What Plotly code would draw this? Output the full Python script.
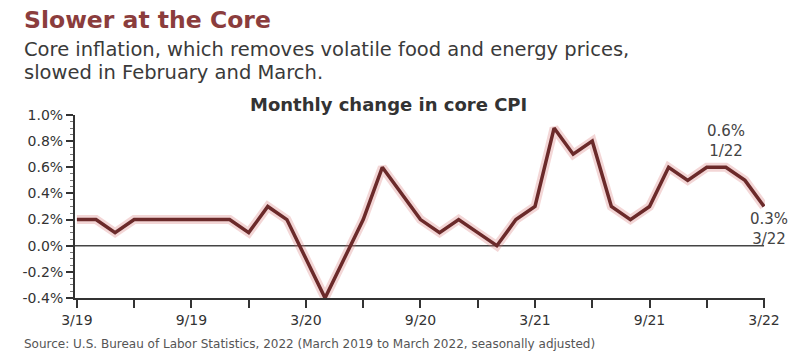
import plotly.graph_objects as go

months = ["3/19","4/19","5/19","6/19","7/19","8/19","9/19","10/19","11/19","12/19",
          "1/20","2/20","3/20","4/20","5/20","6/20","7/20","8/20","9/20","10/20","11/20","12/20",
          "1/21","2/21","3/21","4/21","5/21","6/21","7/21","8/21","9/21","10/21","11/21","12/21",
          "1/22","2/22","3/22"]
core_cpi = [0.2,0.2,0.1,0.2,0.2,0.2,0.2,0.2,0.2,0.1,
            0.3,0.2,-0.1,-0.4,-0.1,0.2,0.6,0.4,0.2,0.1,0.2,0.1,
            0.0,0.2,0.3,0.9,0.7,0.8,0.3,0.2,0.3,0.6,0.5,0.6,
            0.6,0.5,0.3]
tick_labels = ["3/19","9/19","3/20","9/20","3/21","9/21","3/22"]
y_ticks = [-0.4,-0.2,0.0,0.2,0.4,0.6,0.8,1.0]

x = list(range(len(months)))
FONT = "DejaVu Sans"

W, H = 792, 356
ml, mr, mt, mb = 75, 24, 115, 58
pw, ph = W - ml - mr, H - mt - mb

def px_to_paper(px, py):
    return (px - ml) / pw, (H - mb - py) / ph

fig = go.Figure()
fig.add_trace(go.Scatter(x=x, y=core_cpi, mode="lines",
                         line=dict(color="rgba(215,120,120,0.3)", width=9),
                         hoverinfo="skip", showlegend=False))
fig.add_trace(go.Scatter(x=x, y=core_cpi, mode="lines",
                         line=dict(color="#6b2a2a", width=3.5),
                         showlegend=False))

fig.add_shape(type="line", xref="x", yref="y", x0=-0.1, x1=36, y0=0, y1=0,
              line=dict(color="#444", width=1.5), layer="below")

fig.update_xaxes(range=[-0.1, 36.05], tickmode="array",
                 tickvals=[x[months.index(t)] for t in tick_labels], ticktext=tick_labels,
                 ticks="outside", ticklen=8, tickwidth=2, tickcolor="#333",
                 showline=True, linecolor="#333", linewidth=2, showgrid=False, zeroline=False,
                 minor=dict(tickmode="array", tickvals=list(range(3, 36, 6)),
                            ticks="outside", ticklen=8, tickwidth=2, tickcolor="#333"),
                 tickfont=dict(family=FONT, size=14, color="#333"))
fig.update_yaxes(range=[-0.4, 1.0], tickmode="array", tickvals=y_ticks,
                 ticktext=[f"{v:.1f}%" for v in y_ticks],
                 ticks="outside", ticklen=7, tickwidth=2, tickcolor="#333",
                 showline=True, linecolor="#333", linewidth=2, showgrid=False, zeroline=False,
                 minor=dict(dtick=0.05, ticks="outside", ticklen=3, tickwidth=1, tickcolor="#777"),
                 tickfont=dict(family=FONT, size=14, color="#333"))

texts = [
    (20, "<b>Slower at the Core</b>", dict(size=23.5, color="#8b3d3d")),
    (49, "Core inflation, which removes volatile food and energy prices,", dict(size=19.5, color="#3a3a3a")),
    (72, "slowed in February and March.", dict(size=19.5, color="#3a3a3a")),
    (344, "Source: U.S. Bureau of Labor Statistics, 2022 (March 2019 to March 2022, seasonally adjusted)", dict(size=12, color="#555")),
]
for py, txt, f in texts:
    xp, yp = px_to_paper(22, py)
    fig.add_annotation(x=xp, y=yp, xref="paper", yref="paper", text=txt,
                       showarrow=False, xanchor="left", yanchor="middle",
                       font=dict(family=FONT, **f))

xp, yp = px_to_paper(390, 105)
fig.add_annotation(x=xp, y=yp, xref="paper", yref="paper", text="<b>Monthly change in core CPI</b>",
                   showarrow=False, xanchor="center", yanchor="middle",
                   font=dict(family=FONT, size=18, color="#333"))

fig.add_annotation(x=x[34], y=core_cpi[34], xref="x", yref="y", text="0.6%<br>1/22",
                   showarrow=False, xanchor="center", yanchor="bottom", yshift=5,
                   font=dict(family=FONT, size=15, color="#444"))
fig.add_annotation(x=x[36], y=core_cpi[36], xref="x", yref="y", text="0.3%<br>3/22",
                   showarrow=False, xanchor="center", yanchor="top", yshift=-1, xshift=5,
                   font=dict(family=FONT, size=15, color="#444"))

fig.update_layout(width=W, height=H, margin=dict(l=ml, r=mr, t=mt, b=mb),
                  plot_bgcolor="white", paper_bgcolor="white", showlegend=False)
fig.write_html("out.html")
